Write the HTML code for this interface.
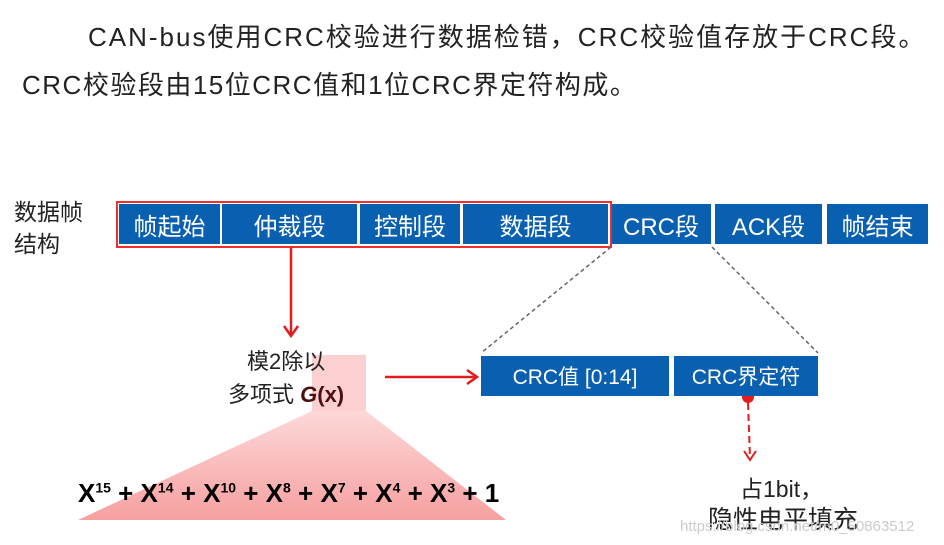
<!DOCTYPE html>
<html><head><meta charset="utf-8"><style>
body{margin:0;width:944px;height:545px;background:#fff;position:relative;overflow:hidden;font-family:"Liberation Sans","Noto Sans CJK SC",sans-serif;}
.t{position:absolute;white-space:nowrap;color:#222;}
.c{position:absolute;background:#0a60b0;color:#fff;font-size:24px;display:flex;align-items:center;justify-content:center;top:204px;height:40px;}
</style></head><body>
<div class="t" style="left:88px;top:17px;font-size:26px;letter-spacing:2px;">CAN-bus使用CRC校验进行数据检错，CRC校验值存放于CRC段。</div>
<div class="t" style="left:22px;top:65px;font-size:26px;letter-spacing:1.5px;">CRC校验段由15位CRC值和1位CRC界定符构成。</div>
<div class="t" style="left:14px;top:196px;font-size:23px;line-height:32px;">数据帧<br>结构</div>
<div class="c" style="left:119px;width:101px;">帧起始</div>
<div class="c" style="left:222px;width:135px;">仲裁段</div>
<div class="c" style="left:360px;width:100px;">控制段</div>
<div class="c" style="left:463px;width:145px;">数据段</div>
<div class="c" style="left:611px;width:100px;">CRC段</div>
<div class="c" style="left:715px;width:107px;">ACK段</div>
<div class="c" style="left:827px;width:101px;">帧结束</div>
<div style="position:absolute;left:116px;top:201px;width:492px;height:43px;border:2px solid #f03030;"></div>
<div style="position:absolute;left:312px;top:355px;width:54px;height:56px;background:#fcd0d0;"></div>
<svg style="position:absolute;left:0;top:0" width="944" height="545">
<defs><linearGradient id="g" x1="0" y1="0" x2="0" y2="1"><stop offset="0" stop-color="#fdd8d8"/><stop offset="1" stop-color="#f6a0a0"/></linearGradient></defs>
<polygon points="312,411 366,411 506,520 78,520" fill="url(#g)"/>
<line x1="611" y1="247" x2="481" y2="353" stroke="#666" stroke-width="1.5" stroke-dasharray="4,3"/>
<line x1="712" y1="247" x2="818" y2="353" stroke="#666" stroke-width="1.5" stroke-dasharray="4,3"/>
<line x1="291" y1="247" x2="291" y2="334" stroke="#e51c1c" stroke-width="2.5"/>
<polyline points="284,326 291,336 298,326" fill="none" stroke="#e51c1c" stroke-width="2.5"/>
<line x1="385" y1="377" x2="475" y2="377" stroke="#e51c1c" stroke-width="2.5"/>
<polyline points="467,370 477,377 467,384" fill="none" stroke="#e51c1c" stroke-width="2.5"/>
<circle cx="748" cy="397" r="6" fill="#e51c1c"/>
<line x1="748" y1="403" x2="750" y2="458" stroke="#e51c1c" stroke-width="2" stroke-dasharray="7,4"/>
<polyline points="744,451 750,460 756,451" fill="none" stroke="#e51c1c" stroke-width="2"/>
</svg>
<div class="t" style="left:247px;top:344px;font-size:22px;">模2除以</div>
<div class="t" style="left:228px;top:377px;font-size:22px;">多项式 <b style="color:#4a1010;font-style:italic">G</b><b style="color:#4a1010">(x)</b></div>
<div class="c" style="left:481px;top:356px;width:188px;font-size:21px;">CRC值 [0:14]</div>
<div class="c" style="left:674px;top:356px;width:144px;font-size:21px;">CRC界定符</div>
<div class="t" style="left:78px;top:478px;font-size:26px;font-weight:bold;color:#000;">X<sup style="font-size:14px">15</sup> + X<sup style="font-size:14px">14</sup> + X<sup style="font-size:14px">10</sup> + X<sup style="font-size:14px">8</sup> + X<sup style="font-size:14px">7</sup> + X<sup style="font-size:14px">4</sup> + X<sup style="font-size:14px">3</sup> + 1</div>
<div class="t" style="left:740px;top:470px;font-size:23px;">占1bit，</div>
<div class="t" style="left:708px;top:500px;font-size:25px;">隐性电平填充</div>
<div class="t" style="left:680px;top:518px;font-size:15px;color:#ccc;">https://blog.csdn.net/m0_50863512</div>
</body></html>
